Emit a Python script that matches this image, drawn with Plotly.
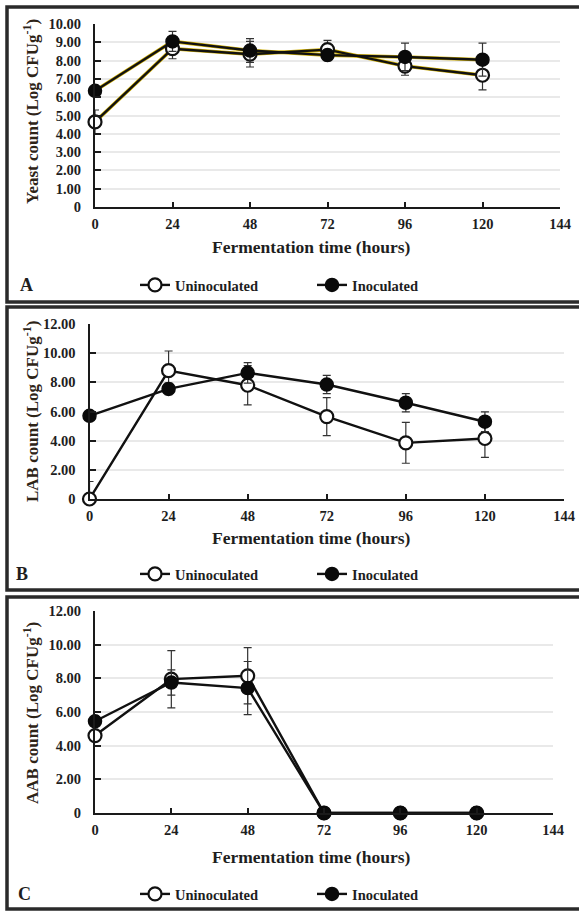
import plotly.graph_objects as go

# ---------------- data ----------------
hours = [0, 24, 48, 72, 96, 120]
x_ticks = [0, 24, 48, 72, 96, 120, 144]

yeast_unin = [4.65, 8.65, 8.35, 8.6, 7.7, 7.2]
yeast_unin_err = [0.65, 0.55, 0.7, 0.5, 0.5, 0.8]
yeast_inoc = [6.35, 9.05, 8.55, 8.3, 8.2, 8.05]
yeast_inoc_err = [0.3, 0.55, 0.65, 0.3, 0.75, 0.9]

lab_unin = [0.0, 8.8, 7.8, 5.65, 3.85, 4.15]
lab_unin_err = [1.2, 1.35, 1.35, 1.3, 1.4, 1.3]
lab_inoc = [5.7, 7.55, 8.65, 7.85, 6.6, 5.3]
lab_inoc_err = [0.3, 0.4, 0.7, 0.63, 0.63, 0.68]

aab_unin = [4.6, 7.95, 8.15, 0, 0, 0]
aab_unin_err = [0.3, 1.7, 1.67, 0, 0, 0]
aab_inoc = [5.45, 7.75, 7.42, 0, 0, 0]
aab_inoc_err = [0.3, 0.75, 1.58, 0, 0, 0]

yeast_ticks = [0, 1, 2, 3, 4, 5, 6, 7, 8, 9, 10]
yeast_ticktext = ["0", "1.00", "2.00", "3.00", "4.00", "5.00", "6.00", "7.00", "8.00", "9.00", "10.00"]
big_ticks = [0, 2, 4, 6, 8, 10, 12]
big_ticktext = ["0", "2.00", "4.00", "6.00", "8.00", "10.00", "12.00"]

series_names = ["Uninoculated", "Inoculated"]
x_title = "Fermentation time (hours)"
y_titles = ["Yeast count (Log CFUg<sup>-1</sup>)",
            "LAB count (Log CFUg<sup>-1</sup>)",
            "AAB count (Log CFUg<sup>-1</sup>)"]
panel_letters = ["A", "B", "C"]

# ---------------- layout helpers ----------------
W, H = 579, 911
def fx(p):
    return p / W
def fy(p):
    return 1 - p / H

FONT = "Liberation Serif"
INK = "#1e1e1e"

panels = [
    dict(xpx=(95, 560), ypx=(207, 24), yr=[0, 10], tv=yeast_ticks, tt=yeast_ticktext,
         unin=yeast_unin, ue=yeast_unin_err, inoc=yeast_inoc, ie=yeast_inoc_err,
         xt_y=247, yt=(31, 112), leg_y=285, letter=(26, 285), box=(7, 7, 302), halo=True),
    dict(xpx=(89.5, 564), ypx=(499, 324), yr=[0, 12], tv=big_ticks, tt=big_ticktext,
         unin=lab_unin, ue=lab_unin_err, inoc=lab_inoc, ie=lab_inoc_err,
         xt_y=538, yt=(31, 412), leg_y=574, letter=(22, 574), box=(7, 307, 590), halo=False),
    dict(xpx=(95, 553), ypx=(813, 611), yr=[0, 12], tv=big_ticks, tt=big_ticktext,
         unin=aab_unin, ue=aab_unin_err, inoc=aab_inoc, ie=aab_inoc_err,
         xt_y=857, yt=(31, 713), leg_y=894, letter=(24, 894), box=(7, 597, 909), halo=False),
]

fig = go.Figure()
annotations = []
shapes = []

for i, p in enumerate(panels):
    k = "" if i == 0 else str(i + 1)
    xa, ya = "x" + k, "y" + k
    leg = "legend" + k
    if p["halo"]:
        for vals in (p["unin"], p["inoc"]):
            fig.add_trace(go.Scatter(x=hours, y=vals, mode="lines", xaxis=xa, yaxis=ya,
                                     line=dict(color="#cfae00", width=3.6), showlegend=False,
                                     hoverinfo="skip", cliponaxis=False))
    fig.add_trace(go.Scatter(
        x=hours, y=p["unin"], name=series_names[0], mode="lines+markers",
        xaxis=xa, yaxis=ya, legend=leg, cliponaxis=False,
        line=dict(color="#111111", width=2.4),
        marker=dict(symbol="circle", size=13, color="white", line=dict(color="#111111", width=2.2)),
        error_y=dict(type="data", array=p["ue"], visible=True, color="#333333", thickness=1.2, width=4)))
    fig.add_trace(go.Scatter(
        x=hours, y=p["inoc"], name=series_names[1], mode="lines+markers",
        xaxis=xa, yaxis=ya, legend=leg, cliponaxis=False,
        line=dict(color="#111111", width=2.4),
        marker=dict(symbol="circle", size=13, color="#0a0a0a", line=dict(color="#0a0a0a", width=1.5)),
        error_y=dict(type="data", array=p["ie"], visible=True, color="#333333", thickness=1.2, width=4)))

    axis_common = dict(showline=True, linecolor="#1a1a1a", linewidth=2, ticks="inside",
                       tickcolor="#1a1a1a", tickwidth=2, zeroline=False, automargin=False,
                       tickfont=dict(family=FONT, size=14.5, color=INK, weight="bold"))
    fig.layout["xaxis" + k] = dict(
        domain=[fx(p["xpx"][0]), fx(p["xpx"][1])], anchor=ya, range=[0, 144],
        tickvals=x_ticks, ticklen=5, showgrid=False, ticklabelstandoff=3, **axis_common)
    fig.layout["yaxis" + k] = dict(
        domain=[fy(p["ypx"][0]), fy(p["ypx"][1])], anchor=xa, range=p["yr"],
        tickvals=p["tv"], ticktext=p["tt"], ticklen=6, showgrid=True,
        gridcolor="#e9e9e9", gridwidth=1.5, ticklabelstandoff=9, **axis_common)

    annotations.append(dict(x=fx(311), y=fy(p["xt_y"]), xref="paper", yref="paper",
                            text=x_title, showarrow=False, xanchor="center", yanchor="middle",
                            font=dict(family=FONT, size=17.5, color=INK, weight="bold")))
    annotations.append(dict(x=fx(p["yt"][0]), y=fy(p["yt"][1]), xref="paper", yref="paper",
                            text=y_titles[i], showarrow=False, textangle=-90,
                            xanchor="center", yanchor="middle",
                            font=dict(family=FONT, size=17, color="#2e2418", weight="bold")))
    annotations.append(dict(x=fx(p["letter"][0]), y=fy(p["letter"][1]), xref="paper", yref="paper",
                            text=panel_letters[i], showarrow=False, xanchor="center", yanchor="middle",
                            font=dict(family=FONT, size=18, color=INK, weight="bold")))
    bx0, by0, by1 = p["box"]
    shapes.append(dict(type="rect", xref="paper", yref="paper", x0=fx(bx0), x1=fx(585),
                       y0=fy(by1), y1=fy(by0), line=dict(color="#2a2a2a", width=3.5)))
    fig.layout[leg] = dict(orientation="h", x=fx(135), y=fy(p["leg_y"]), xanchor="left",
                           yanchor="middle", entrywidthmode="pixels", entrywidth=132,
                           bgcolor="rgba(0,0,0,0)", itemclick=False,
                           font=dict(family=FONT, size=14.5, color=INK, weight="bold"))

fig.update_layout(width=W, height=H, autosize=False, margin=dict(l=0, r=0, t=0, b=0, pad=0),
                  paper_bgcolor="white", plot_bgcolor="white",
                  annotations=annotations, shapes=shapes)

fig.write_html("out.html",
               config={"responsive": False, "displayModeBar": False},
               post_script="document.body.style.margin='0';document.body.style.overflow='hidden';")
